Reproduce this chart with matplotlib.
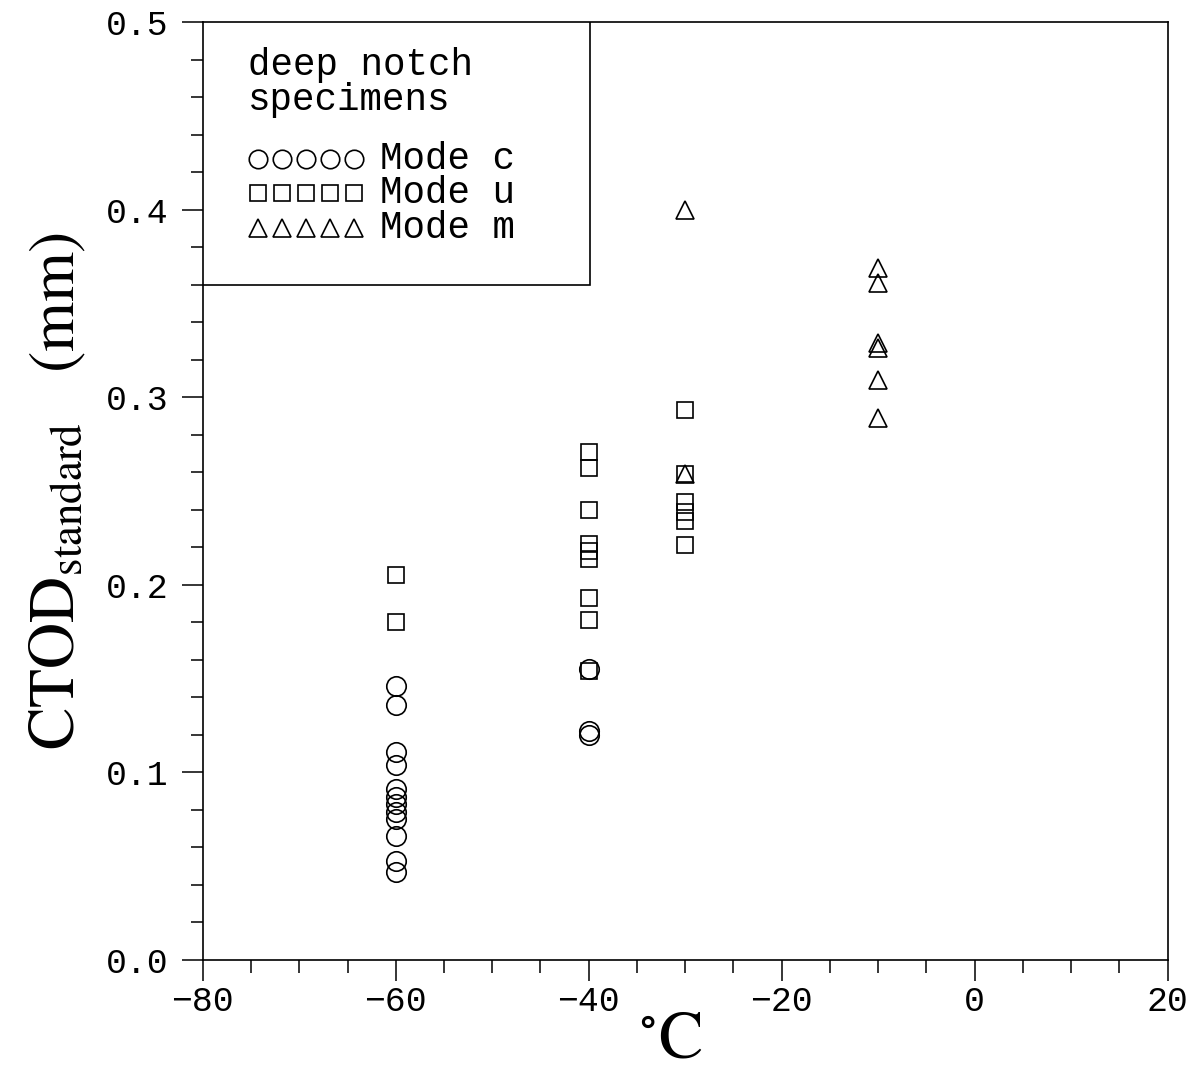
import numpy as np
import matplotlib
matplotlib.use("Agg")
import matplotlib.pyplot as plt
from matplotlib.ticker import MultipleLocator, FormatStrFormatter
from matplotlib.patches import Rectangle

# CTOD (mm) against test temperature, deep notch specimens
temp_c = [-60] * 12 + [-40] * 2 + [-40]
ctod_c = [0.146, 0.136, 0.111, 0.104, 0.091, 0.087, 0.083, 0.079, 0.075,
          0.066, 0.053, 0.047, 0.122, 0.120, 0.155]

temp_u = [-60, -60] + [-40] * 9 + [-30] * 6
ctod_u = [0.205, 0.180,
          0.271, 0.262, 0.240, 0.222, 0.218, 0.214, 0.193, 0.181, 0.154,
          0.293, 0.259, 0.244, 0.239, 0.234, 0.221]

temp_m = [-30, -30] + [-10] * 6
ctod_m = [0.400, 0.259, 0.369, 0.361, 0.329, 0.326, 0.309, 0.289]

series = [("o", 14, "Mode c"), ("s", 12, "Mode u"), ("^", 13, "Mode m")]
key_title = ["deep notch", "specimens"]

mono = "Liberation Mono"
plt.rcParams["mathtext.fontset"] = "stix"

fig = plt.figure(figsize=(12, 10.78), dpi=100)
ax = fig.add_axes([0.169, 0.1095, 0.804, 0.8701])

mk = dict(linestyle="none", markerfacecolor="none", markeredgecolor="black",
          markeredgewidth=1.2)
for (m, ms, _), xs, ys in zip(series, [temp_c, temp_u, temp_m],
                              [ctod_c, ctod_u, ctod_m]):
    ax.plot(xs, ys, marker=m, markersize=ms, **mk)

ax.set_xlim(-80, 20)
ax.set_ylim(0, 0.5)
ax.xaxis.set_major_locator(MultipleLocator(20))
ax.xaxis.set_minor_locator(MultipleLocator(5))
ax.yaxis.set_major_locator(MultipleLocator(0.1))
ax.yaxis.set_minor_locator(MultipleLocator(0.02))
ax.yaxis.set_major_formatter(FormatStrFormatter("%.1f"))
ax.tick_params(which="both", direction="out", width=1.1, colors="black")
ax.tick_params(which="major", length=15)
ax.tick_params(which="minor", length=9)
ax.tick_params(axis="y", pad=10)
ax.tick_params(axis="x", pad=3)
for lab in ax.get_xticklabels() + ax.get_yticklabels():
    lab.set_fontfamily(mono)
    lab.set_fontsize(25)
for sp in ax.spines.values():
    sp.set_linewidth(1.2)

ax.set_xlabel(r"$^{\circ}$C", fontfamily="STIXGeneral", fontsize=48, labelpad=0)
ax.xaxis.set_label_coords(0.485, -0.055)
ax.set_ylabel(r"CTOD$_{\mathrm{standard}}$   (mm)", fontfamily="STIXGeneral",
              fontsize=46, labelpad=12)

# key box in the upper left corner (axes fractions)
W, H = 965.0, 938.0
fx = lambda px: px / W
fy = lambda py: 1 - py / H
tr = ax.transAxes
ax.add_patch(Rectangle((0, fy(263)), fx(387), 263 / H, transform=tr,
                       facecolor="white", edgecolor="black", linewidth=1.2,
                       zorder=5))
for i, line in enumerate(key_title):
    ax.text(fx(45), fy(53 + 35 * i), line, transform=tr, fontfamily=mono,
            fontsize=27, va="baseline", ha="left", zorder=6)
for i, (m, ms, label) in enumerate(series):
    base = 147 + 34.5 * i
    xs = [fx(55 + 24 * k) for k in range(5)]
    ax.plot(xs, [fy(base - 10)] * 5, marker=m, markersize=ms * 0.95,
            transform=tr, clip_on=False, zorder=6, **mk)
    ax.text(fx(177), fy(base), label, transform=tr, fontfamily=mono,
            fontsize=27, va="baseline", ha="left", zorder=6)

fig.savefig("out.png", dpi=100)
